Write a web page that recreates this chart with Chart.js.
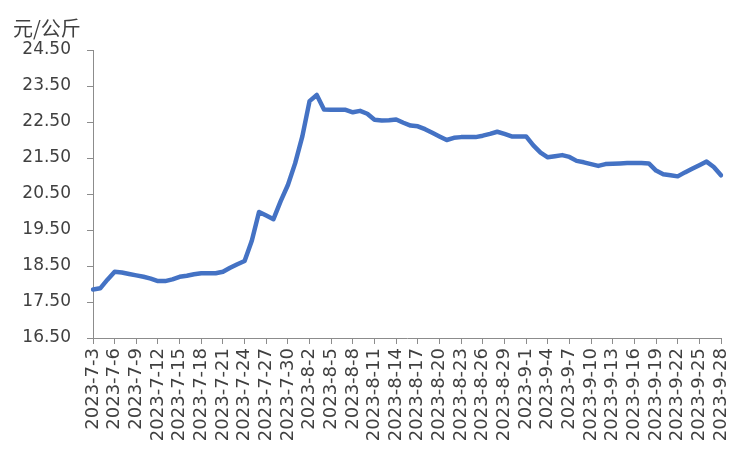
<!DOCTYPE html>
<html lang="zh">
<head>
<meta charset="UTF-8">
<title>价格走势</title>
<script src="https://cdn.jsdelivr.net/npm/chart.js"></script>
<style>
    html, body { margin: 0; padding: 0; background: #fff; }
    #wrap { width: 750px; height: 450px; }
</style>
</head>
<body>
<div id="wrap"><canvas id="priceChart" width="750" height="450"></canvas></div>
<script>
    // 日期（每日）
    const dates = [
        '2023-7-3','2023-7-4','2023-7-5','2023-7-6','2023-7-7','2023-7-8','2023-7-9','2023-7-10',
        '2023-7-11','2023-7-12','2023-7-13','2023-7-14','2023-7-15','2023-7-16','2023-7-17','2023-7-18',
        '2023-7-19','2023-7-20','2023-7-21','2023-7-22','2023-7-23','2023-7-24','2023-7-25','2023-7-26',
        '2023-7-27','2023-7-28','2023-7-29','2023-7-30','2023-7-31','2023-8-1','2023-8-2','2023-8-3',
        '2023-8-4','2023-8-5','2023-8-6','2023-8-7','2023-8-8','2023-8-9','2023-8-10','2023-8-11',
        '2023-8-12','2023-8-13','2023-8-14','2023-8-15','2023-8-16','2023-8-17','2023-8-18','2023-8-19',
        '2023-8-20','2023-8-21','2023-8-22','2023-8-23','2023-8-24','2023-8-25','2023-8-26','2023-8-27',
        '2023-8-28','2023-8-29','2023-8-30','2023-8-31','2023-9-1','2023-9-2','2023-9-3','2023-9-4',
        '2023-9-5','2023-9-6','2023-9-7','2023-9-8','2023-9-9','2023-9-10','2023-9-11','2023-9-12',
        '2023-9-13','2023-9-14','2023-9-15','2023-9-16','2023-9-17','2023-9-18','2023-9-19','2023-9-20',
        '2023-9-21','2023-9-22','2023-9-23','2023-9-24','2023-9-25','2023-9-26','2023-9-27','2023-9-28'
    ];

    // 价格（元/公斤）
    const prices = [
        17.85, 17.88, 18.12, 18.34, 18.32, 18.28, 18.24, 18.20,
        18.15, 18.08, 18.08, 18.13, 18.20, 18.23, 18.27, 18.30,
        18.30, 18.30, 18.34, 18.45, 18.55, 18.64, 19.20, 20.00,
        19.90, 19.80, 20.30, 20.75, 21.35, 22.10, 23.08, 23.25,
        22.85, 22.84, 22.84, 22.84, 22.77, 22.81, 22.73, 22.56,
        22.54, 22.55, 22.57, 22.48, 22.40, 22.38, 22.30, 22.20,
        22.10, 22.00, 22.06, 22.08, 22.08, 22.08, 22.12, 22.17,
        22.23, 22.17, 22.10, 22.10, 22.10, 21.85, 21.65, 21.52,
        21.55, 21.58, 21.53, 21.42, 21.38, 21.33, 21.28, 21.33,
        21.34, 21.35, 21.36, 21.36, 21.36, 21.35, 21.15, 21.05,
        21.02, 20.99, 21.10, 21.20, 21.30, 21.40, 21.25, 21.02
    ];

    const yMin = 16.5;
    const yMax = 24.5;
    const yStep = 1;
    const unitLabel = '元/公斤';

    const textColor = '#404040';
    const axisColor = '#8c8c8c';

    // 左上角单位
    const unitPlugin = {
        id: 'unitLabel',
        afterDraw(chart) {
            const c = chart.ctx;
            c.save();
            c.fillStyle = textColor;
            c.font = '20px "Noto Sans CJK SC", "DejaVu Sans", sans-serif';
            c.textAlign = 'left';
            c.textBaseline = 'middle';
            c.fillText(unitLabel, 13, 28);
            c.restore();
        }
    };

    new Chart(document.getElementById('priceChart'), {
        type: 'line',
        data: {
            labels: dates,
            datasets: [{
                data: prices,
                borderColor: '#4472C4',
                borderWidth: 4.5,
                borderJoinStyle: 'round',
                borderCapStyle: 'round',
                pointRadius: 0,
                tension: 0,
                fill: false
            }]
        },
        options: {
            responsive: false,
            animation: false,
            layout: { padding: { top: 50, right: 29, left: 0, bottom: 0 } },
            plugins: {
                legend: { display: false },
                tooltip: { enabled: false }
            },
            scales: {
                x: {
                    type: 'category',
                    offset: false,
                    afterFit(scale) { scale.height = 112; },
                    grid: {
                        drawOnChartArea: false,
                        drawTicks: true,
                        tickLength: 6,
                        tickColor: ctx => (ctx.index % 3 === 0 ? axisColor : 'rgba(0,0,0,0)')
                    },
                    border: { display: true, color: axisColor, width: 1 },
                    ticks: {
                        autoSkip: false,
                        minRotation: 90,
                        maxRotation: 90,
                        padding: 4,
                        color: textColor,
                        font: { family: '"DejaVu Sans", sans-serif', size: 18 },
                        callback(value, index) {
                            return index % 3 === 0 ? dates[index] : '';
                        }
                    }
                },
                y: {
                    min: yMin,
                    max: yMax,
                    afterFit(scale) { scale.width = 93; },
                    grid: {
                        drawOnChartArea: false,
                        drawTicks: true,
                        tickLength: 6,
                        tickColor: axisColor
                    },
                    border: { display: true, color: axisColor, width: 1 },
                    ticks: {
                        stepSize: yStep,
                        padding: 16,
                        color: textColor,
                        font: { family: '"DejaVu Sans", sans-serif', size: 17 },
                        callback: v => Number(v).toFixed(2)
                    }
                }
            }
        },
        plugins: [unitPlugin]
    });
</script>
</body>
</html>
